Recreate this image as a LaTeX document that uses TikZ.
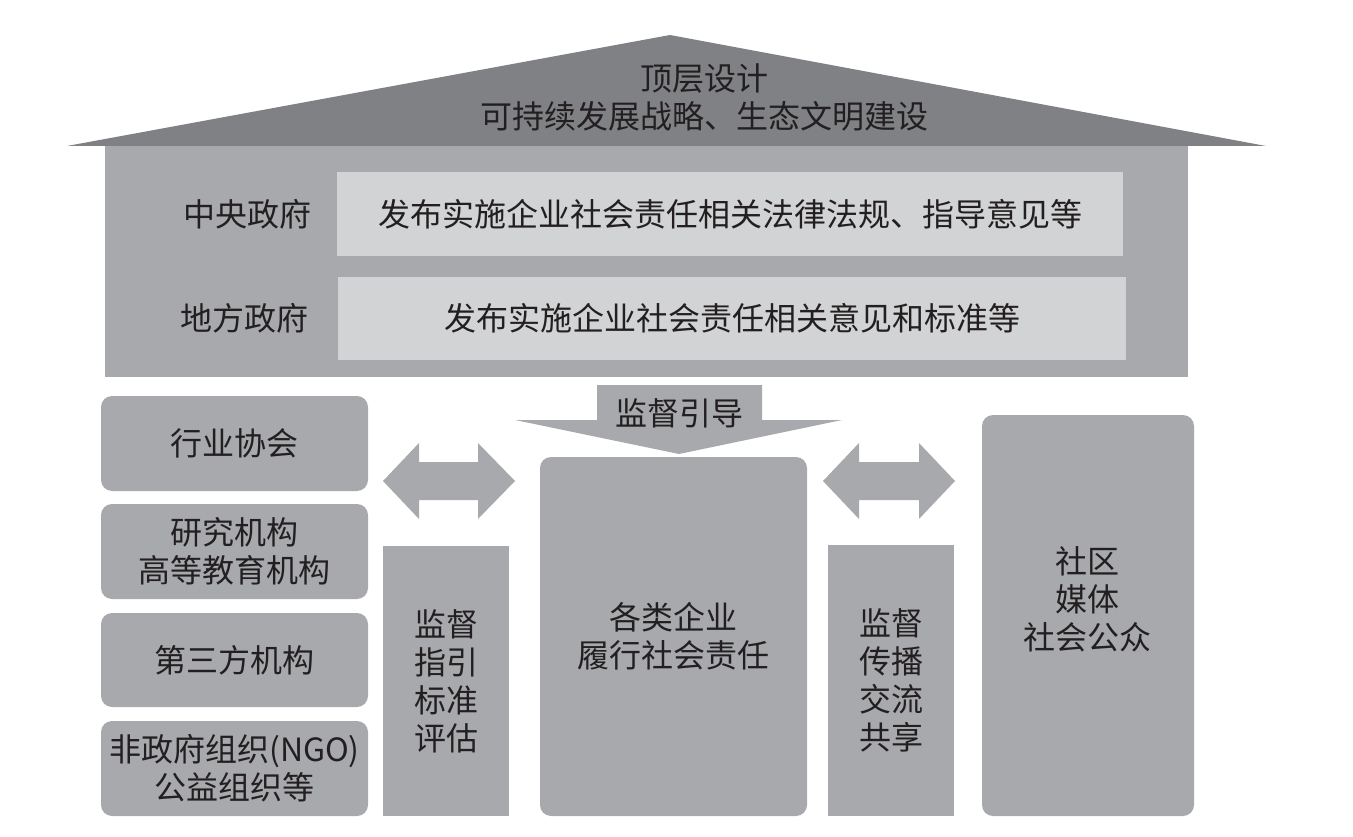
\documentclass[tikz,border=0pt]{standalone}
\usepackage{fontspec}
\newfontfamily\cjk{Noto Sans CJK SC}
\definecolor{roofgray}{HTML}{808184}
\definecolor{bodygray}{HTML}{A7A9AC}
\definecolor{plategray}{HTML}{D1D3D4}
\definecolor{inkgray}{HTML}{231F20}

\begin{document}
\begin{tikzpicture}[x=1pt,y=-1pt]
\tikzstyle{every node} = [font=\cjk\fontsize{32}{38}\selectfont,text=inkgray,align=center,inner sep=0pt]
\tikzstyle{plate} = [fill=plategray,minimum height=84pt]
\tikzstyle{tile} = [fill=bodygray,rounded corners=11pt,minimum width=267pt]
\tikzstyle{pillar} = [fill=bodygray,minimum width=126pt,minimum height=271pt]
\useasboundingbox (0,0) rectangle (1353,837);

% roof and house body
\fill[roofgray] (67,146) -- (670,35) -- (1266,146) -- cycle;
\fill[bodygray] (105,146) rectangle (1188,377);

\path (704,98) node (dingceng) {顶层设计\\可持续发展战略、生态文明建设}
	(247,214) node (zhongyang) {中央政府}
	(244,318) node (difang) {地方政府}
	(730,214) node [plate,minimum width=786pt] (fabu1) {发布实施企业社会责任相关法律法规、指导意见等}
	(732,318.5) node [plate,minimum width=788pt,minimum height=83pt] (fabu2) {发布实施企业社会责任相关意见和标准等};

% downward arrow
\fill[bodygray] (597,385) -- (762,385) -- (762,420) -- (842,420) -- (679,454) -- (515,420) -- (597,420) -- cycle;
\node (jiandu) at (679,413) {监督引导};

% left column
\path (234.5,443.5) node [tile,minimum height=95pt] (hangye) {行业协会}
	(234.5,551.5) node [tile,minimum height=95pt] (yanjiu) {研究机构\\高等教育机构}
	(234.5,660) node [tile,minimum height=94pt] (disanfang) {第三方机构}
	(234.5,768.5) node [tile,minimum height=95pt] (ngo) {非政府组织(NGO)\\公益组织等};

\path (446,681) node [pillar,minimum height=270pt] (zhiyin) {监督\\指引\\标准\\评估}
	(673.5,636.5) node [tile,minimum height=359pt] (qiye) {各类企业\\履行社会责任}
	(891,680.5) node [pillar] (chuanbo) {监督\\传播\\交流\\共享}
	(1088,615.5) node [tile,minimum width=212pt,minimum height=401pt] (shequ) {}
	(1087,599) node (gongzhong) {社区\\媒体\\社会公众};

% double arrows
\fill[bodygray] (383,481) -- (419,443) -- (419,462) -- (478,462) -- (478,443) -- (515,481)
	-- (478,519) -- (478,500) -- (419,500) -- (419,519) -- cycle;
\fill[bodygray] (823,481) -- (859,443) -- (859,462) -- (919,462) -- (919,443) -- (955,481)
	-- (919,519) -- (919,500) -- (859,500) -- (859,519) -- cycle;
\end{tikzpicture}
\end{document}
